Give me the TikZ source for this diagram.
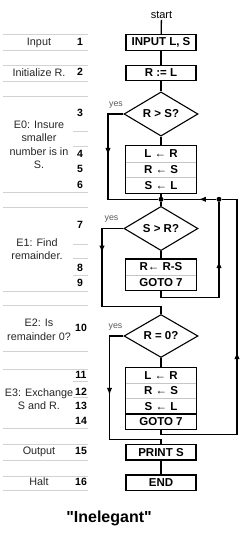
\documentclass[tikz,border=0pt]{standalone}
\usepackage{fontspec}
\setmainfont{Liberation Sans}
\newfontfamily\plainsans{Liberation Sans}
\usetikzlibrary{shapes.geometric,arrows.meta}
\begin{document}
\begin{tikzpicture}[x=1pt,y=-1pt,
  stepbox/.style={draw=black,line width=1.3pt,minimum width=70pt,minimum height=15.5pt,inner sep=0pt,font=\fontsize{11.5}{12}\selectfont\bfseries},
  rowtxt/.style={minimum width=70pt,inner sep=0pt,font=\fontsize{11.5}{12}\selectfont\bfseries},
  dia/.style={diamond,draw=black,line width=1.1pt,minimum width=74pt,minimum height=42pt,inner sep=0pt,font=\fontsize{11.5}{12}\selectfont\bfseries},
  conn/.style={draw=black,line width=1.3pt},
  tip/.style={draw=black,line width=1.3pt,-{Latex[length=7pt,width=5.5pt]}},
  lbl/.style={font=\fontsize{10.8}{13.5}\selectfont,text=black!85,align=center,inner sep=0pt},
  num/.style={font=\fontsize{10.5}{12}\selectfont\bfseries,inner sep=0pt},
  yesl/.style={font=\fontsize{8.8}{10}\selectfont,text=black!65,inner sep=0pt},
  sep/.style={draw=gray!35,line width=0.6pt},
  rowsep/.style={draw=gray!45,line width=0.5pt},
  dot/.style={circle,fill=black,inner sep=0pt,minimum size=5pt}
]
\useasboundingbox (0,0) rectangle (250,535);

% ---- left column separators
\foreach \yy in {34.3,50,65.7,81,96,192.7,207.3,291,305.7,351.7,369.3,428.3,444.3,460,476,490.7}
  \draw[sep] (3,\yy) -- (88,\yy);
\foreach \yy in {131,146,244.3,258.3,275,381,397.7}
  \draw[sep] (73,\yy) -- (88,\yy);

% ---- left labels
\node[lbl] (l1) at (39,43) {Input};
\node[lbl] (l2) at (39,73) {Initialize R.};
\node[lbl] (l3) at (39,145) {E0: Insure\\smaller\\number is in\\S.};
\node[lbl] (l4) at (37,249) {E1: Find\\remainder.};
\node[lbl] (l5) at (39,330) {E2: Is\\remainder 0?};
\node[lbl] (l6) at (39,399) {E3: Exchange\\S and R.};
\node[lbl] (l7) at (39,452) {Output};
\node[lbl] (l8) at (39,482) {Halt};

\node[num] (n1) at (80,42) {1};
\node[num] (n2) at (80,72) {2};
\node[num] (n3) at (80,113) {3};
\node[num] (n4) at (80,154) {4};
\node[num] (n5) at (80,169) {5};
\node[num] (n6) at (80,185) {6};
\node[num] (n7) at (80,225) {7};
\node[num] (n8) at (80,267.5) {8};
\node[num] (n9) at (80,282.5) {9};
\node[num] (n10) at (81,328) {10};
\node[num] (n11) at (81,375) {11};
\node[num] (n12) at (81,391.5) {12};
\node[num] (n13) at (81,406) {13};
\node[num] (n14) at (81,421) {14};
\node[num] (n15) at (81,451) {15};
\node[num] (n16) at (81,482) {16};

% ---- flowchart
\node[font=\fontsize{11}{12}\selectfont,inner sep=1pt] (start) at (161.5,15) {start};
\node[stepbox] (in) at (161,42.5) {INPUT L, S};
\node[stepbox] (init) at (161,73) {R := L};
\node[dia] (d1) at (161,114) {R > S?};

% E0 box
\node[rowtxt,minimum height=15.67pt] (r4) at (161,153.8) {L ← R};
\node[rowtxt,minimum height=15.67pt] (r5) at (161,169.5) {R ← S};
\node[rowtxt,minimum height=15.67pt] (r6) at (161,185.2) {S ← L};
\draw[rowsep] (r4.south west) -- (r4.south east);
\draw[rowsep] (r5.south west) -- (r5.south east);
\draw[conn] (r4.north west) rectangle (r6.south east);

\node[dot] (j1) at (161,199.3) {};
\node[dot] (j2) at (219,199.3) {};

\node[dia] (d2) at (161,228.5) {S > R?};

% E1 box
\node[rowtxt,minimum height=15.35pt] (r8) at (161,267) {R← R-S};
\node[rowtxt,minimum height=15.35pt] (r9) at (161,282.3) {GOTO 7};
\draw[rowsep] (r8.south west) -- (r8.south east);
\draw[conn] (r8.north west) rectangle (r9.south east);

\node[dia] (d3) at (161,336) {R = 0?};

% E3 box
\node[rowtxt,minimum height=15.4pt] (r11) at (161,375.4) {L ← R};
\node[rowtxt,minimum height=15.4pt] (r12) at (161,390.8) {R ← S};
\node[rowtxt,minimum height=15.4pt] (r13) at (161,406.2) {S ← L};
\node[rowtxt,minimum height=15.4pt] (r14) at (161,421.6) {GOTO 7};
\draw[rowsep] (r11.south west) -- (r11.south east);
\draw[rowsep] (r12.south west) -- (r12.south east);
\draw[conn] (r13.south west) -- (r13.south east);
\draw[conn] (r11.north west) rectangle (r14.south east);

\node[stepbox] (prt) at (161,452.2) {PRINT S};
\node[stepbox] (end) at (161,482.8) {END};

\node[font=\plainsans\fontsize{16}{18}\selectfont\bfseries,inner sep=0pt] (title) at (109,518.5) {"Inelegant"};

% yes labels
\node[yesl] (y1) at (116,105) {yes};
\node[yesl] (y2) at (111.5,219) {yes};
\node[yesl] (y3) at (115.5,327.5) {yes};

% ---- coordinates for connector bends
\coordinate (a1) at (108,114);
\coordinate (a2) at (108,199.3);
\coordinate (b1) at (102,228.5);
\coordinate (b2) at (102,306.3);
\coordinate (b3) at (161,306.3);
\coordinate (c1) at (161,297.3);
\coordinate (c2) at (219,297.3);
\coordinate (e1) at (109.5,336);
\coordinate (e2) at (109.5,439.3);
\coordinate (e3) at (161,439.3);
\coordinate (f1) at (161,434.3);
\coordinate (f2) at (237,434.3);
\coordinate (f3) at (237,199.3);

% arrow tip positions on segments
\path (a1) -- (a2) coordinate[pos=0.48] (m1);
\path (b1) -- (b2) coordinate[pos=0.31] (m2);
\path (c2) -- (j2) coordinate[pos=0.38] (m3);
\path (f2) -- (f3) coordinate[pos=0.35] (m4);
\path (j2) -- (j1) coordinate[pos=0.33] (m5);
\path (e1) -- (e2) coordinate[pos=0.57] (m6);

% ---- connectors
\draw[conn] (start) -- (in);
\draw[conn] (in) -- (init);
\draw[conn] (init) -- (d1.north);
\draw[conn] (d1.south) -- (r4.north);
\draw[conn] (d1.west) -- (a1) -- (a2) -- (j1);
\draw[tip] (a1) -- (m1);
\draw[conn] (r6.south) -- (j1) -- (d2.north);
\draw[conn] (d2.south) -- (r8.north);
\draw[conn] (d2.west) -- (b1) -- (b2) -- (b3) -- (d3.north);
\draw[tip] (b1) -- (m2);
\draw[conn] (r9.south) -- (c1) -- (c2) -- (j2);
\draw[tip] (c2) -- (m3);
\draw[conn] (d3.south) -- (r11.north);
\draw[conn] (r14.south) -- (f1) -- (f2) -- (f3) -- (j2) -- (j1);
\draw[tip] (f2) -- (m4);
\draw[tip] (j2) -- (m5);
\draw[conn] (d3.west) -- (e1) -- (e2) -- (e3) -- (prt.north);
\draw[tip] (e1) -- (m6);
\draw[conn] (prt) -- (end);
\end{tikzpicture}
\end{document}
